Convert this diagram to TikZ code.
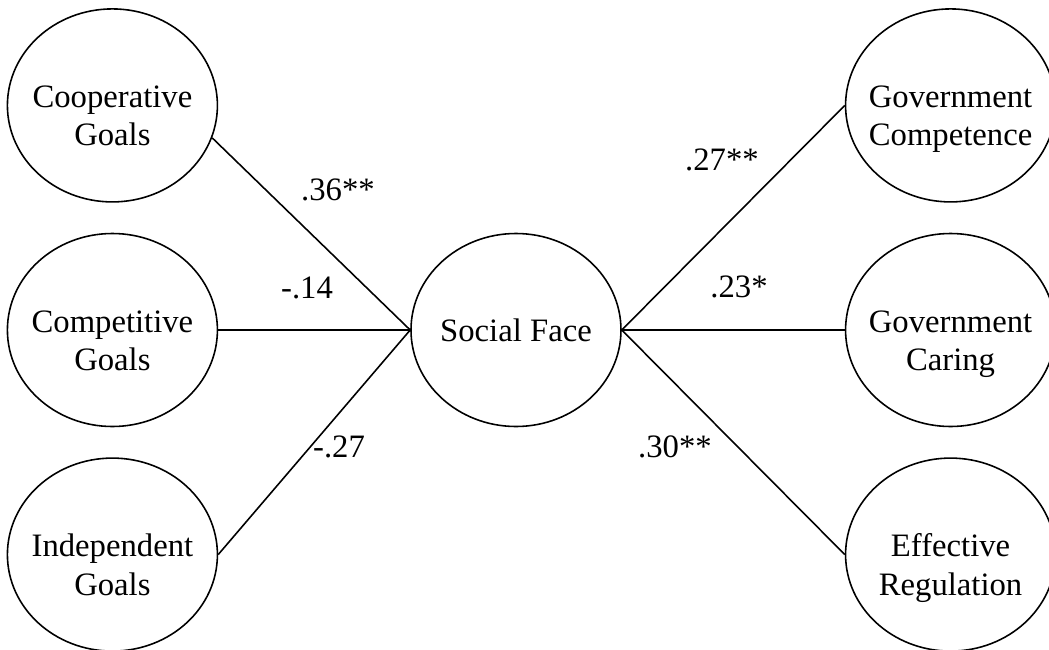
\documentclass[tikz,border=0pt]{standalone}
\usepackage{fontspec}
\setmainfont{Liberation Serif}
\usetikzlibrary{positioning,shapes.geometric}
\begin{document}
\begin{tikzpicture}[font=\fontsize{18.6}{21.8}\selectfont,
        latent/.style={draw, ellipse, line width=0.9pt, minimum width=4.2cm, minimum height=3.86cm, inner xsep=-0.2cm, inner ysep=0pt, align=center},
        twoline/.style={latent, text height=46pt, text depth=0pt},
        link/.style={line width=0.9pt}]
        \useasboundingbox (-10.32,-6.38) rectangle (10.66,6.6);
        \node[latent] (face) {Social Face};
        \node[twoline, left=3.84cm of face] (comp) {Competitive\\Goals};
        \node[twoline, above=0.6cm of comp] (coop) {Cooperative\\Goals};
        \node[twoline, below=0.6cm of comp] (indep) {Independent\\Goals};
        \node[twoline, right=4.46cm of face] (caring) {Government\\Caring};
        \node[twoline, above=0.6cm of caring] (compet) {Government\\Competence};
        \node[twoline, below=0.6cm of caring] (reg) {Effective\\Regulation};

        \draw[link] (coop.-18) -- (face.west);
        \draw[link] (comp.east) -- (face.west);
        \draw[link] (indep.east) -- (face.west);
        \draw[link] (face.east) -- (compet.west);
        \draw[link] (face.east) -- (caring.west);
        \draw[link] (face.east) -- (reg.west);

        \node (l-coop) at (-3.56,2.8) {.36**};
        \node (l-comp) at (-4.18,0.84) {-.14};
        \node (l-indep) at (-3.54,-2.34) {-.27};
        \node (l-compet) at (4.12,3.4) {.27**};
        \node (l-caring) at (4.46,0.86) {.23*};
        \node (l-reg) at (3.18,-2.34) {.30**};
    \end{tikzpicture}
\end{document}
